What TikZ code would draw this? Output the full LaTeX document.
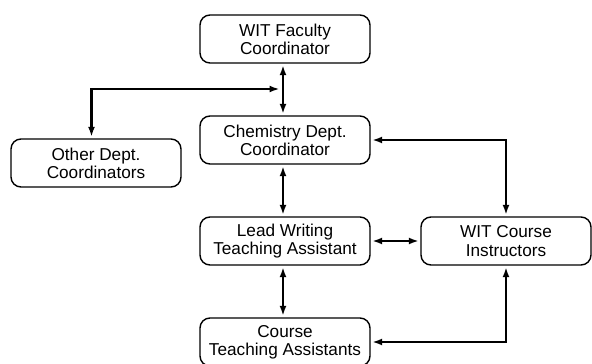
\documentclass[tikz,border=0pt]{standalone}
\usepackage{fontspec}
\setmainfont{Liberation Sans}
\usetikzlibrary{arrows.meta}

\begin{document}
\begin{tikzpicture}[x=1pt,y=-1pt,
    box/.style={draw,line width=1.4pt,rounded corners=10pt,minimum width=170pt,minimum height=48pt,
                align=center,inner sep=0pt,font=\fontsize{17.2}{18.2}\selectfont},
    link/.style={line width=2.2pt,{Latex[length=10pt,width=7pt]}-{Latex[length=10pt,width=7pt]},
                 shorten <=1.5pt,shorten >=1.5pt}]
                    \useasboundingbox (0,0) rectangle (592,364);
                    \node[box] (fac) at (285,39) {WIT Faculty\\Coordinator};
                    \node[box] (chem) at (285,140) {Chemistry Dept.\\Coordinator};
                    \node[box] (oth) at (96,163) {Other Dept.\\Coordinators};
                    \node[box] (lead) at (285,241) {Lead Writing\\Teaching Assistant};
                    \node[box] (ins) at (506,241) {WIT Course\\Instructors};
                    \node[box] (cta) at (285,342) {Course\\Teaching Assistants};
                    \coordinate (j) at (283,89);
                    \draw[link] ([xshift=-2pt]fac.south) -- ([xshift=-2pt]chem.north);
                    \draw[link] ([xshift=-4.5pt]oth.north) |- ([xshift=-2pt]j);
                    \draw[link] ([xshift=-2pt]chem.south) -- ([xshift=-2pt]lead.north);
                    \draw[link] (ins.north) |- (chem.east);
                    \draw[link] (lead.east) -- (ins.west);
                    \draw[link] ([xshift=-2pt]lead.south) -- ([xshift=-2pt]cta.north);
                    \draw[link] (cta.east) -| (ins.south);
\end{tikzpicture}
\end{document}
